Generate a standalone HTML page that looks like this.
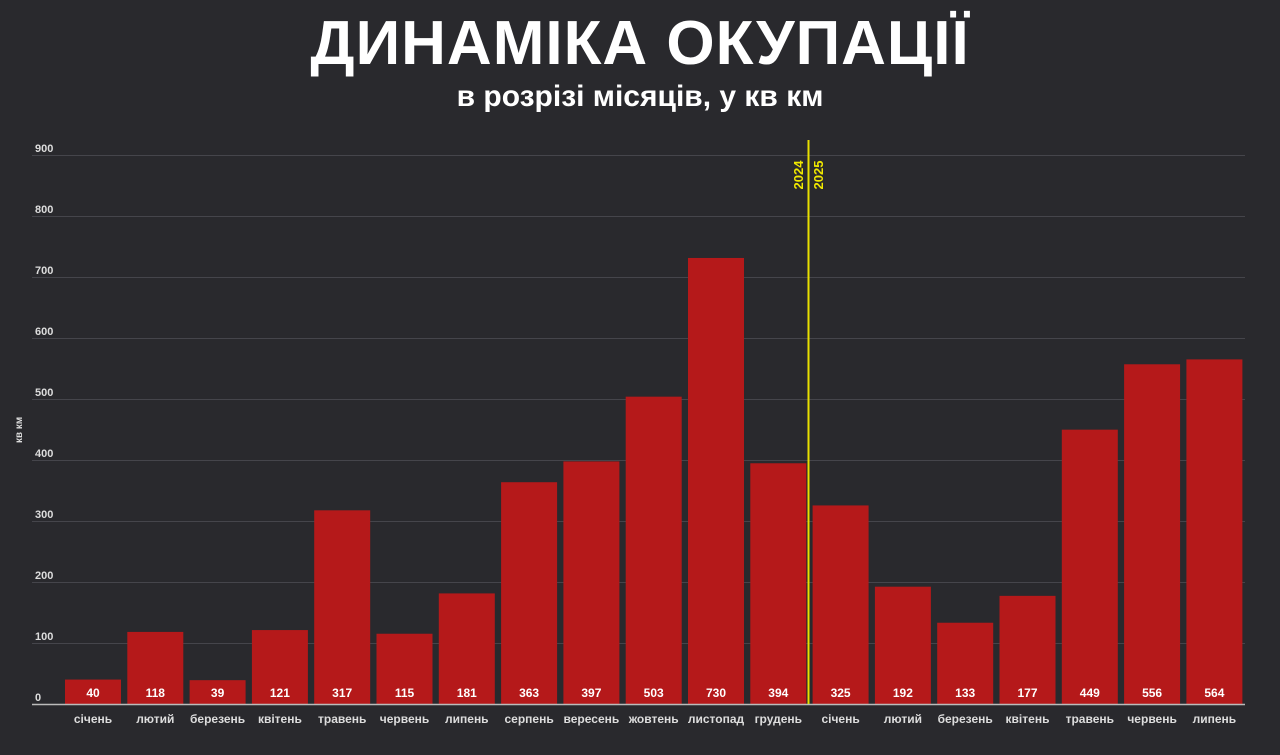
<!DOCTYPE html>
<html><head><meta charset="utf-8"><style>
body{margin:0;width:1280px;height:755px;background:#29292d;overflow:hidden;font-family:"Liberation Sans",sans-serif;position:relative}
.t{position:absolute;left:0;width:1280px;text-align:center;color:#fff;font-weight:bold}
</style></head><body>
<div class="t" style="top:8px;font-size:62px;letter-spacing:1px">ДИНАМІКА ОКУПАЦІЇ</div>
<div class="t" style="top:80px;font-size:30px">в розрізі місяців, у кв км</div>
<svg width="1280" height="755" style="position:absolute;left:0;top:0" font-family="Liberation Sans, sans-serif">
<g stroke="#45454b" stroke-width="1">
<line x1="32" x2="1245" y1="155.5" y2="155.5"/><line x1="32" x2="1245" y1="216.5" y2="216.5"/><line x1="32" x2="1245" y1="277.5" y2="277.5"/><line x1="32" x2="1245" y1="338.5" y2="338.5"/><line x1="32" x2="1245" y1="399.5" y2="399.5"/><line x1="32" x2="1245" y1="460.5" y2="460.5"/><line x1="32" x2="1245" y1="521.5" y2="521.5"/><line x1="32" x2="1245" y1="582.5" y2="582.5"/><line x1="32" x2="1245" y1="643.5" y2="643.5"/>
</g>
<g fill="#ddd" font-size="11" font-weight="bold">
<text x="35" y="152">900</text><text x="35" y="213">800</text><text x="35" y="274">700</text><text x="35" y="335">600</text><text x="35" y="396">500</text><text x="35" y="457">400</text><text x="35" y="518">300</text><text x="35" y="579">200</text><text x="35" y="640">100</text><text x="35" y="701">0</text>
</g>
<text transform="translate(22,430) rotate(-90)" text-anchor="middle" fill="#ddd" font-size="10" font-weight="bold">кв км</text>
<g id="bars"></g>
<line x1="32" x2="1245" y1="704.5" y2="704.5" stroke="#bbb" stroke-width="1.5"/>
<line x1="808.5" x2="808.5" y1="140" y2="704" stroke="#e8e000" stroke-width="2"/>
<text transform="translate(803,175) rotate(-90)" text-anchor="middle" fill="#f0e800" font-size="13" font-weight="bold">2024</text>
<text transform="translate(823,175) rotate(-90)" text-anchor="middle" fill="#f0e800" font-size="13" font-weight="bold">2025</text>
</svg>
<script>
var v=[40,118,39,121,317,115,181,363,397,503,730,394,325,192,133,177,449,556,564];
var m=["січень","лютий","березень","квітень","травень","червень","липень","серпень","вересень","жовтень","листопад","грудень","січень","лютий","березень","квітень","травень","червень","липень"];
var s="";
for(var i=0;i<v.length;i++){var x=65+i*62.3,h=v[i]*0.611,c=x+28;
s+='<rect x="'+x+'" y="'+(704-h)+'" width="56" height="'+h+'" fill="#b5191a"/>';
s+='<text x="'+c+'" y="697" text-anchor="middle" fill="#fff" font-size="12" font-weight="bold">'+v[i]+'</text>';
s+='<text x="'+c+'" y="723" text-anchor="middle" fill="#ddd" font-size="12" font-weight="bold">'+m[i]+'</text>';}
document.getElementById("bars").innerHTML=s;
</script>
</body></html>
